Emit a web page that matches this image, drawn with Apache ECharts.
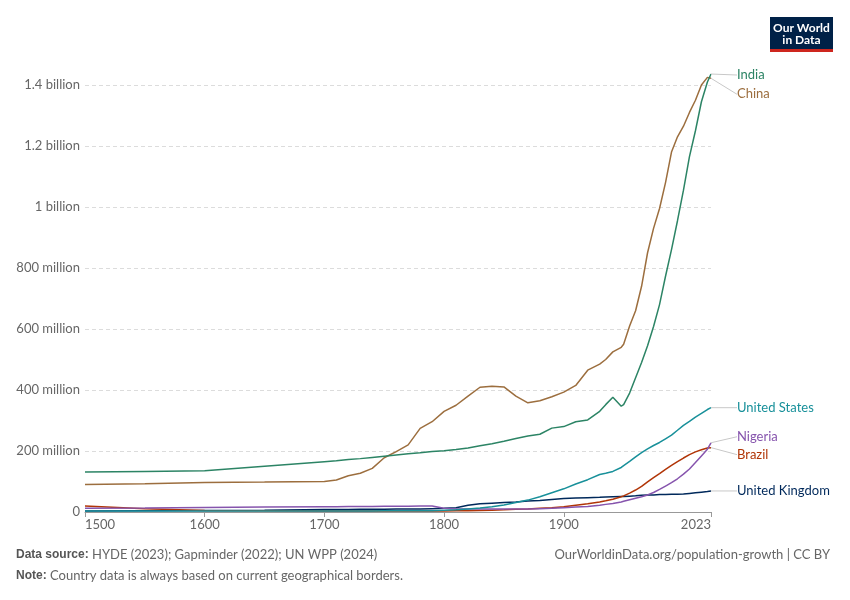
<!DOCTYPE html>
<html>
<head>
<meta charset="utf-8">
<script src="https://cdn.jsdelivr.net/npm/echarts@6/dist/echarts.min.js"></script>
<style>
html,body{margin:0;padding:0;background:#fff;}
#chart{width:850px;height:600px;}
</style>
</head>
<body>
<div id="chart"></div>
<script>
// years shared by every country (population in millions)
var years = [1500,1550,1600,1650,1700,1710,1720,1730,1740,1750,1760,1770,1780,1790,
  1800,1810,1820,1830,1840,1850,1860,1870,1880,1890,1900,1910,1920,1930,1935,1941,1948,
  1950,1955,1960,1965,1970,1975,1980,1985,1990,1995,2000,2005,2010,2015,2020,2023];

var india = [131,133,135,150,165,168,172,175,179,183,187,191,194,198,
  201,205,210,217,224,232,241,249,255,275,280,296,302,330,352,376,347,
  352,390,440,490,545,608,680,773,860,955,1055,1165,1250,1345,1410,1436];

var china = [90,93,97,98,100,105,119,127,143,178,198,220,274,296,
  330,350,380,409,412,410,380,358,365,378,393,415,465,485,500,525,540,
  550,610,660,740,850,930,995,1080,1180,1230,1265,1310,1350,1400,1425,1422];

var unitedStates = [3,3,3,3,3,3,3,3,3,4,4,4,4,4,
  6,7,10,13,17,23,31,39,50,63,76,92,106,123,127,133,146,
  152,166,181,195,207,218,228,240,252,268,284,297,311,323,336,342];

var nigeria = [12,13,15,16,17,17,18,18,18,19,19,19,20,20,
  12,10,10,10,10,10,10,10,11,12,14,16,18,22,25,28,33,
  35,40,45,50,56,64,74,85,96,109,124,141,162,184,206,227];

var brazil = [20,11,5,4,3,3,3,3,3,3,3,3,3,3,
  3,4,4,5,6,7,9,10,12,14,17,22,27,33,37,42,50,
  53,62,72,84,99,113,126,140,153,165,177,188,197,204,210,211];

var unitedKingdom = [3,4,5,6,8,8,8,9,9,9,10,10,10,11,
  12,14,22,27,29,31,33,36,38,41,44,46,47,48,49,50,51,
  51,52,53,55,56,56,57,57,58,58,59,61,63,65,67,69];

var xTicks = [1500,1600,1700,1800,1900,2023];

var chart = {
    init:function(){
        var myChart = echarts.init(document.getElementById('chart'));
        myChart.setOption(chart.getOption());
    },
    pairs:function(vals){
        // only the last point carries the country name
        return years.map(function(y,i){
            var p = {value:[y, vals[i]]};
            if(i == years.length - 1){
                p.label = {show:true};
                p.labelLine = {show:true};
            }
            return p;
        });
    },
    makeSeries:function(name, vals, color, dy){
        return {
            name:name,
            type:'line',
            data:chart.pairs(vals),
            showSymbol:true,
            symbol:'circle',
            symbolSize:0,
            clip:false,
            lineStyle:{color:color, width:1.5},
            itemStyle:{color:color},
            label:{
                show:false,
                position:'right',
                distance:26,
                formatter:'{a}',
                color:color,
                fontSize:13,
                fontFamily:'Lato'
            },
            labelLayout:{dy:dy},
            labelLine:{show:true, lineStyle:{color:'#c8c8c8', width:1}},
            emphasis:{disabled:true}
        };
    },
    getOption:function(){
        return {
            animation:false,
            textStyle:{fontFamily:'Lato'},
            grid:{left:85, right:139, top:85, bottom:88},
            xAxis:{
                type:'value',
                min:1500,
                max:2023,
                axisLine:{lineStyle:{color:'#999'}},
                axisTick:{show:true, length:5, lineStyle:{color:'#999'}, customValues:xTicks},
                axisLabel:{
                    customValues:xTicks,
                    color:'#666',
                    fontSize:13,
                    margin:6,
                    alignMinLabel:'left',
                    alignMaxLabel:'right',
                    formatter:function(v){ return String(v); }
                },
                splitLine:{show:false}
            },
            yAxis:{
                type:'value',
                min:0,
                max:1400,
                interval:200,
                axisLine:{show:false},
                axisTick:{show:false},
                axisLabel:{
                    color:'#666',
                    fontSize:13,
                    margin:5,
                    formatter:function(v){
                        if(v == 0) return '0';
                        if(v >= 1000) return (v/1000) + ' billion';
                        return v + ' million';
                    }
                },
                splitLine:{lineStyle:{color:'#dcdcdc', type:[4,3]}}
            },
            series:[
                chart.makeSeries('United Kingdom', unitedKingdom, '#00295b', 0),
                chart.makeSeries('Brazil', brazil, '#b13507', 7),
                chart.makeSeries('Nigeria', nigeria, '#8654ad', -6),
                chart.makeSeries('United States', unitedStates, '#18909a', 0),
                chart.makeSeries('China', china, '#9c6e3e', 16),
                chart.makeSeries('India', india, '#2c8465', 1)
            ],
            graphic:[
                {
                    type:'group',
                    left:770,
                    top:17,
                    children:[
                        {type:'rect', shape:{x:0, y:0, width:63, height:32}, style:{fill:'#002147'}},
                        {type:'rect', shape:{x:0, y:32, width:63, height:3}, style:{fill:'#ce261e'}},
                        {type:'text', x:31.5, y:5, style:{text:'Our World\nin Data', fill:'#fff', font:'bold 12px Lato', align:'center', lineHeight:12}}
                    ]
                },
                {
                    type:'text',
                    left:16,
                    top:548,
                    style:{
                        text:'{b|Data source:} HYDE (2023); Gapminder (2022); UN WPP (2024)',
                        fill:'#666',
                        font:'13px Lato',
                        rich:{b:{fontWeight:'bold', fill:'#555', font:'bold 13px Lato'}}
                    }
                },
                {
                    type:'text',
                    left:16,
                    top:569,
                    style:{
                        text:'{b|Note:} Country data is always based on current geographical borders.',
                        fill:'#666',
                        font:'13px Lato',
                        rich:{b:{fontWeight:'bold', fill:'#555', font:'bold 13px Lato'}}
                    }
                },
                {
                    type:'text',
                    right:20,
                    top:548,
                    style:{
                        text:'OurWorldinData.org/population-growth | CC BY',
                        fill:'#666',
                        font:'13px Lato'
                    }
                }
            ]
        };
    }
};

chart.init();
</script>
</body>
</html>
